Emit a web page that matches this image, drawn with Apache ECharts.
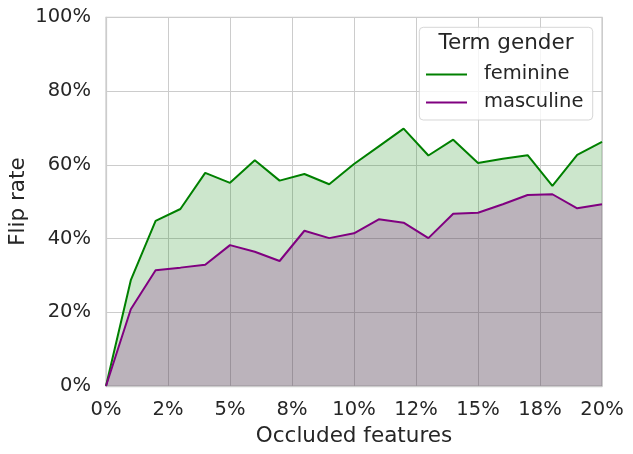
<!DOCTYPE html>
<html>
<head>
<meta charset="utf-8">
<script src="https://cdn.jsdelivr.net/npm/echarts@6/dist/echarts.min.js"></script>
<style>
html,body{margin:0;padding:0;background:#fff;}
#chart{width:633px;height:454px;}
</style>
</head>
<body>
<div id="chart"></div>
<script>
// Occluded features (%) at which flip rate was measured
const xValues = [0,1,2,3,4,5,6,7,8,9,10,11,12,13,14,15,16,17,18,19,20];
// Flip rate (%) per term gender
const feminine = [0,28.7,44.8,48.0,57.8,55.1,61.2,55.7,57.5,54.7,60.2,65.0,69.8,62.5,66.8,60.5,61.6,62.6,54.3,62.7,66.2];
const masculine = [0,20.8,31.4,32.1,32.9,38.2,36.4,33.9,42.1,40.1,41.4,45.2,44.3,40.1,46.7,47.0,49.3,51.8,52.0,48.2,49.3];
// Tick labels (matplotlib-style rounding of 0, 2.5, 5, ... 20)
const xTickLabels = ['0%','2%','5%','8%','10%','12%','15%','18%','20%'];
const yTickLabels = ['0%','20%','40%','60%','80%','100%'];
const seriesNames = ['feminine','masculine'];
const legendTitle = 'Term gender';

const FONT = 'DejaVu Sans';
const TXT = '#262626';
const chart = echarts.init(document.getElementById('chart'), null, {renderer:'canvas'});

const pair = (arr) => xValues.map((x,i)=>[x, arr[i]]);

chart.setOption({
  animation:false,
  backgroundColor:'#ffffff',
  textStyle:{fontFamily:FONT,color:TXT},
  grid:{left:106,right:31,top:17.25,bottom:68,containLabel:false,outerBoundsMode:'none',
    show:true,borderColor:'#cccccc',borderWidth:1.25,backgroundColor:'transparent'},
  xAxis:{
    type:'value',min:0,max:20,interval:2.5,
    name:'Occluded features',nameLocation:'middle',nameGap:39,nameMoveOverlap:false,
    nameTextStyle:{fontFamily:FONT,fontSize:21.5,color:TXT},
    axisLine:{show:true,lineStyle:{color:'#cccccc',width:1.25}},
    axisTick:{show:false},
    axisLabel:{margin:14,fontFamily:FONT,fontSize:19.5,color:TXT,
      formatter:(v)=>xTickLabels[Math.round(v/2.5)]},
    splitLine:{show:true,lineStyle:{color:'#cccccc',width:1}}
  },
  yAxis:{
    type:'value',min:0,max:100,interval:20,
    name:'Flip rate',nameLocation:'middle',nameGap:77,nameRotate:90,nameMoveOverlap:false,
    nameTextStyle:{fontFamily:FONT,fontSize:21.5,color:TXT},
    axisLine:{show:true,lineStyle:{color:'#cccccc',width:1.25}},
    axisTick:{show:false},
    axisLabel:{margin:15,fontFamily:FONT,fontSize:19.5,color:TXT,
      formatter:(v)=>yTickLabels[Math.round(v/20)]},
    splitLine:{show:true,lineStyle:{color:'#cccccc',width:1}}
  },
  legend:{
    orient:'vertical',left:421,top:59.4,padding:5,
    itemWidth:41,itemHeight:2,itemGap:8,icon:'rect',
    textStyle:{fontFamily:FONT,fontSize:19.5,color:TXT,lineHeight:20,padding:[0,0,0,12]},
    data:[
      {name:seriesNames[0],itemStyle:{color:'#008000'}},
      {name:seriesNames[1],itemStyle:{color:'#800080'}}
    ],
    z:6
  },
  graphic:[
    {type:'rect',z:5,shape:{x:419.3,y:27.3,width:173.4,height:92.7,r:4},
     style:{fill:'rgba(255,255,255,0.8)',stroke:'rgba(204,204,204,0.8)',lineWidth:1}},
    {type:'text',z:7,x:506,y:43.3,
     style:{text:legendTitle,font:'21.5px "DejaVu Sans"',fill:TXT,textAlign:'center',textVerticalAlign:'middle'}}
  ],
  series:[
    {name:seriesNames[0],type:'line',data:pair(feminine),symbol:'none',
     lineStyle:{color:'#008000',width:2},itemStyle:{color:'#008000'},
     areaStyle:{color:'rgba(0,128,0,0.2)',opacity:1,origin:'start'},z:2},
    {name:seriesNames[1],type:'line',data:pair(masculine),symbol:'none',
     lineStyle:{color:'#800080',width:2},itemStyle:{color:'#800080'},
     areaStyle:{color:'rgba(128,0,128,0.22)',opacity:1,origin:'start'},z:3}
  ]
});
</script>
</body>
</html>
